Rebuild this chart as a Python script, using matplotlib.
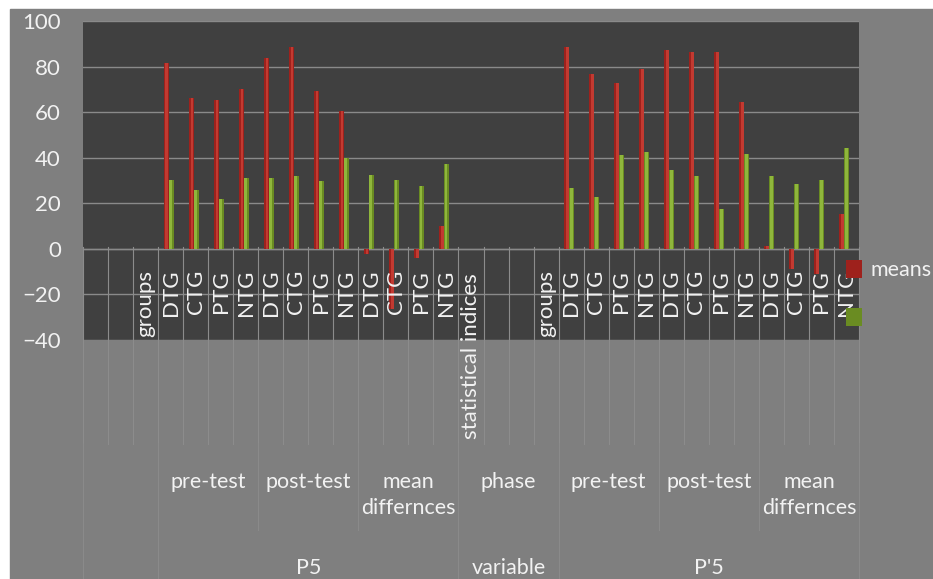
import numpy as np
import matplotlib
matplotlib.use("Agg")
import matplotlib.pyplot as plt
from matplotlib.patches import Rectangle

plt.rcParams['font.family'] = ['Lato', 'DejaVu Sans']

# data
groups = ["DTG", "CTG", "PTG", "NTG"]
p5_means = [81.6, 66.2, 65.3, 70.3, 83.7, 88.7, 69.4, 60.7, -2.4, -26.5, -4.0, 10.1]
p5_green = [30.4, 25.9, 21.8, 31.0, 31.0, 32.1, 30.0, 39.7, 32.5, 30.4, 27.4, 37.1]
p5b_means = [88.7, 76.9, 72.8, 79.0, 87.2, 86.6, 86.6, 64.3, 1.3, -8.8, -10.9, 15.1]
p5b_green = [26.8, 22.8, 41.2, 42.6, 34.6, 32.1, 17.6, 41.8, 32.1, 28.4, 30.4, 44.3]

level1 = ["", "", "groups"] + groups * 3 + ["statistical indices", "", "", "groups"] + groups * 3
level2 = [("pre-test", 3, 7), ("post-test", 7, 11), ("mean\ndiffernces", 11, 15),
          ("phase", 15, 19), ("pre-test", 19, 23), ("post-test", 23, 27),
          ("mean\ndiffernces", 27, 31)]
level3 = [("P5", 3, 15), ("variable", 15, 19), ("P'5", 19, 31)]

pad = [np.nan] * 3
means = np.array(pad + p5_means + [np.nan] * 4 + p5b_means)
green = np.array(pad + p5_green + [np.nan] * 4 + p5b_green)
x = np.arange(len(level1))

W, H = 933, 579
TXT = "#f2f2f2"
fig = plt.figure(figsize=(W / 100, H / 100), dpi=100)
fig.patch.set_facecolor("white")
fig.add_artist(Rectangle((10 / W, 0), 1 - 10 / W, 1 - 9 / H, transform=fig.transFigure,
                         color="#7f7f7f", zorder=0))

top, bot = 21, 340
ax = fig.add_axes([83 / W, 1 - bot / H, (859 - 83) / W, (bot - top) / H])
ax.set_facecolor("#404040")
for s in ax.spines.values():
    s.set_visible(False)


def ay(py):
    # pixel row -> axes fraction
    return (bot - py) / (bot - top)


bw = 0.2
r = ax.bar(x - 0.18, means, bw, color="#9e211c", zorder=3)
ax.bar(x - 0.18 + 0.03, means, bw * 0.55, color="#c23a31", zorder=3)
g = ax.bar(x + 0.02, green, bw, color="#6a8c22", zorder=3)
ax.bar(x + 0.02 - 0.02, green, bw * 0.55, color="#8fb63c", zorder=3)

ax.set_xlim(-0.5, len(x) - 0.5)
ax.set_ylim(-40, 100)
ax.set_yticks(range(-40, 101, 20))
ax.set_xticks([])
ax.tick_params(axis="y", length=0, pad=16, labelsize=16, labelcolor=TXT)
ax.yaxis.grid(True, color="#8a8a8a", lw=1)
ax.set_axisbelow(True)
ax.axhline(0, color="#8a8a8a", lw=1, zorder=2)

tr = ax.get_xaxis_transform()
# level 1 cells
for b in np.arange(len(x) + 1) - 0.5:
    ax.plot([b, b], [ay(247), ay(444)], color="#8c8c8c", lw=0.8, transform=tr,
            clip_on=False, zorder=2)
for i, lab in enumerate(level1):
    if not lab:
        continue
    if len(lab) > 8:
        ax.text(i, ay(356), lab, rotation=90, ha="center", va="center", color=TXT,
                fontsize=16, transform=tr, clip_on=False, zorder=4)
    else:
        ax.text(i, ay(270), lab, rotation=90, ha="center", va="top", color=TXT,
                fontsize=16, transform=tr, clip_on=False, zorder=4)

# level 2 cells
for lab, a, b in level2:
    for e in (a, b):
        ax.plot([e - 0.5, e - 0.5], [ay(444), ay(530)], color="#8a8a8a", lw=0.8,
                transform=tr, clip_on=False)
    ax.text((a + b - 1) / 2, ay(472), lab, ha="center", va="top", color=TXT,
            fontsize=15.5, linespacing=1.35, transform=tr, clip_on=False)

# level 3 cells
for lab, a, b in level3:
    for e in (a, b):
        ax.plot([e - 0.5, e - 0.5], [ay(444), ay(579)], color="#8a8a8a", lw=0.8,
                transform=tr, clip_on=False)
    ax.text((a + b - 1) / 2, ay(568), lab, ha="center", va="center", color=TXT,
            fontsize=15.5, transform=tr, clip_on=False)
ax.plot([-0.5, -0.5], [ay(444), ay(579)], color="#8a8a8a", lw=0.8, transform=tr, clip_on=False)

ax.legend([r, g], ["means", ""], loc="center left", bbox_to_anchor=(846 / W, 1 - 294 / H),
          bbox_transform=fig.transFigure, frameon=False, handlelength=0.75, handleheight=0.9,
          handletextpad=0.4, labelspacing=1.3, borderpad=0, borderaxespad=0,
          fontsize=15.5, labelcolor=TXT)

fig.savefig("out.png", dpi=100, facecolor=fig.get_facecolor())
